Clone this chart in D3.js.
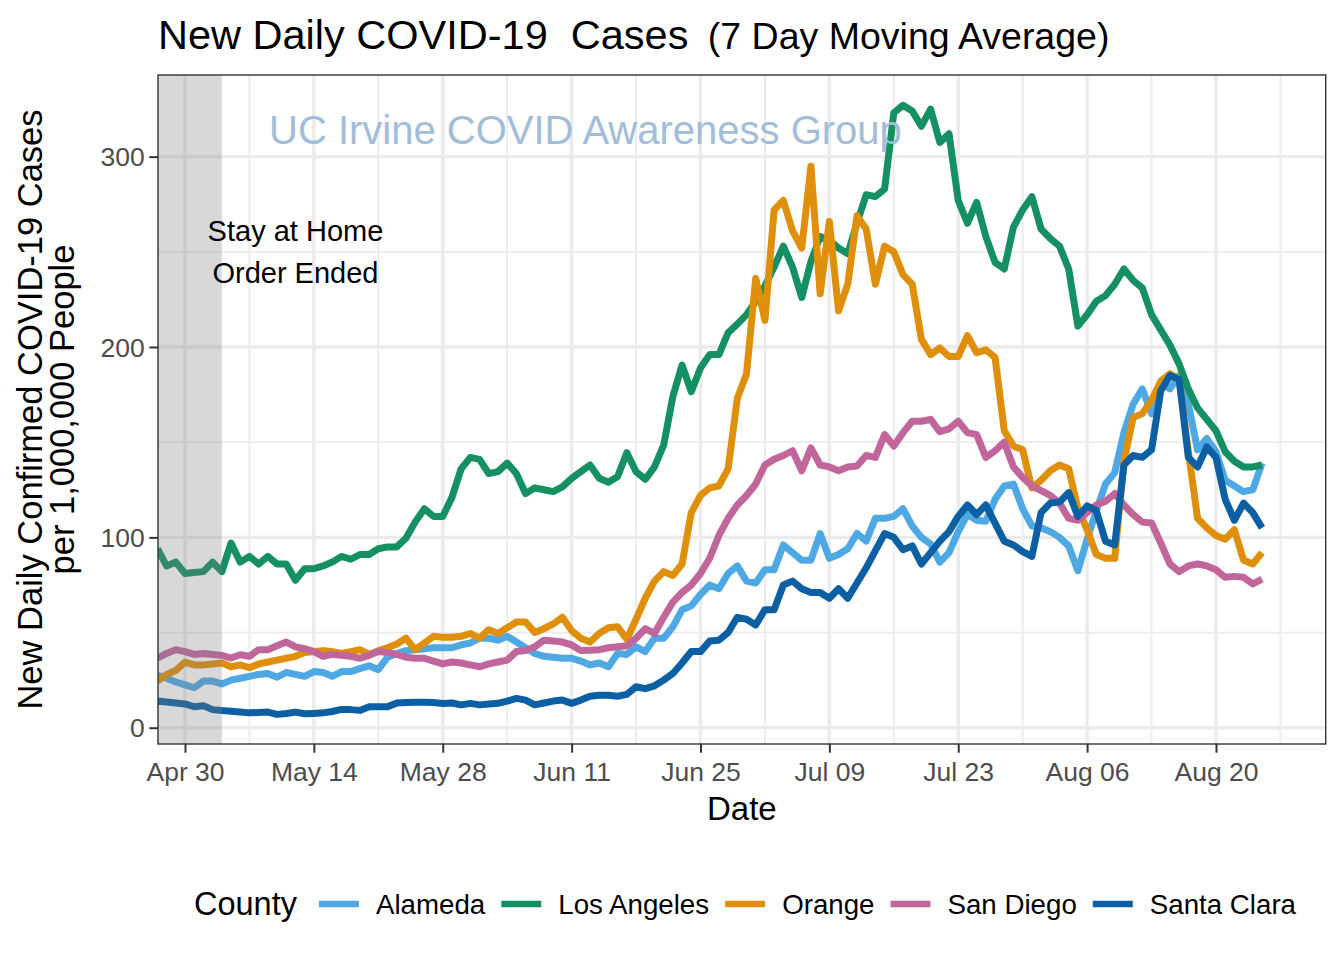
<!DOCTYPE html>
<html><head><meta charset="utf-8">
<script src="https://cdn.jsdelivr.net/npm/d3@7"></script>
<style>
html,body{margin:0;padding:0;background:#fff;}
svg text{font-family:"Liberation Sans", Arial, Helvetica, sans-serif;}
</style></head>
<body><svg id="chart" width="1344" height="960"></svg>
<script>
// ---------------- data ----------------
const startDate = "2020-04-27";
const counties = ["Alameda", "Los Angeles", "Orange", "San Diego", "Santa Clara"];
const countyColors = ["#4ea8e4", "#149063", "#e08f0b", "#c0669b", "#0c5fa3"];

const alameda = [27.5,26,24,22.5,21,24.5,24.5,23,25,26,
27,28,28.5,26.5,29,28,27,29.5,29,27,
29.5,29.5,31,32.5,30.5,37,39,40.5,41,41.5,
42,42,42,43.5,44.5,47,47,46,48,45,
42,39,37.5,37,36.5,36.5,35,33,34,32,
39,38.5,42.5,40,47,47,53,62,64,70,
75,73,81,85,77,76,83,83,96,92,
88,88,102,89,91,94,102,98,110,110,
111,115,106,100,96.5,87,92,103,112,109,
108.5,120,127,128,115,106,105,103,100,95.5,
82.5,99,114,128,134,155,170,178,165,181,
178,185,170,146,152,145,130,127,124,125,
139];

const losAngeles = [94,85,87,81,81.5,82,87,82,97,87,
90,86,90,86,86,77.5,83.5,83.5,85,87,
90,88.5,91,91,94,95,95,99.5,108,115,
111,111,121,136,142,141,133.5,134.5,139,133.5,
123,126,125,124,126.5,131,134.5,138,131,129,
132,144.5,134.5,130.5,137,148.5,174,190.5,176.5,189,
196,196,207.5,212,217,224,232,242,253,242,
226,245,258,256,252,249,265,280,279,283,
323,327,324,316,325,307.5,312,277,265,276,
258,244.5,241,263,272,279,262,257,253,241,
211,217,224,227,233,241,235,231,217,209,
201,191,178,168,162,156,145,140,137,137,
138];

const orange = [24.5,28,30,34.5,33,33,33.5,34,32,33,
31.5,33.5,34.5,35.5,36.5,37.5,39.5,40,40.5,40,
39,40,41,38.5,40.5,42,44,47,41,44.5,
48,47.5,47.5,48,49.5,47,51.5,49.5,52.5,55.5,
55.5,50,52,54.5,58,51,47,45,49.5,52.5,
53,46.5,57,68,77,82,80,86,113,122,
126,127,136,173,186,236,214,272,277,261,
252,295,228,266,219,233,269,262,233,253,
250,238,233,204,196,199.5,195,195,206,197,
198.5,194.5,156,148,146,126,130,135,138,136,
115,104,91,89,89,140,163,165,172,182,
186,183,145,110,105,101,99,104,88,86,
92];

const sanDiego = [36.5,39,41,40,38.5,39,38.5,38,36.6,38.3,
37.5,41,41,43,45,42.5,41.5,40,37.5,38.5,
38,37.5,36.5,38,40,39.5,38.5,37,36.5,36.5,
35,33.5,34.5,34,33,32,33.5,34.5,35.5,40,
40.5,42.5,46,45.5,45,43.5,40.5,40.7,41,42,
42.5,43,47,52,49.5,58,66,71,75,81,
89,101,110,117,122,128,138,141,143,145.5,
135,147,138,137,135,137,137.5,143,142,154,
148,155,161,161,162,155.5,157,161,155,154,
142,145.5,150,137,131.5,127,124.5,122,118,110,
109,113,117,119,123,117,112,108,107.5,97,
86,82,85,86,85,83,79,79.5,79,75.5,
78];

const santaClara = [14,13.5,13,12.5,11,11.5,9.5,9,8.7,8.3,
7.8,8,8.2,7,7.5,8.2,7.3,7.5,7.8,8.5,
9.6,9.5,9.1,11,11,11,13,13.2,13.4,13.4,
13.2,12.7,13,12,12.8,12,12.5,12.8,14,15.4,
14.5,12,13,14,14.5,12.8,14.5,16.5,17,17,
16.5,17.5,21.5,20.5,22,25,28.5,34,40,40,
45.5,46,50,58,57,54,62,62,75,77,
73,71,71,68,73,68,76,84,93,102,
100,93.5,95.5,86,92,98,103,111,117,112,
117,107.5,98,96,92.5,90,113,118,118.5,123.5,
111,116.5,114,98,96,138,143,142,146,177,
185,183,142,137,147.5,142,120,109,118,113,
105];

const seriesValues = [alameda, losAngeles, orange, sanDiego, santaClara];

const xTickDates = ["2020-04-30","2020-05-14","2020-05-28","2020-06-11","2020-06-25","2020-07-09","2020-07-23","2020-08-06","2020-08-20"];
const xTickLabels = ["Apr 30","May 14","May 28","Jun 11","Jun 25","Jul 09","Jul 23","Aug 06","Aug 20"];
const xMinorDates = ["2020-05-07","2020-05-21","2020-06-04","2020-06-18","2020-07-02","2020-07-16","2020-07-30","2020-08-13","2020-08-27"];
const yTicks = [0, 100, 200, 300];
const yMinorTicks = [50, 150, 250];
const stayHomeEnd = "2020-05-04";
const stayHomeLabel = ["Stay at Home", "Order Ended"];
const stayHomeLabelPos = {date: "2020-05-12", value: 250};
const watermark = "UC Irvine COVID Awareness Group";
const watermarkPos = {date: "2020-06-12T12:00:00Z", value: 314};

// ---------------- layout ----------------
const W = 1344, H = 960;
const panel = {left: 158, right: 1325.7, top: 75, bottom: 744};
const parse = d3.utcParse("%Y-%m-%d");
const start = parse(startDate);
const DAY = 864e5;
const dates = alameda.map((_, i) => d3.utcDay.offset(start, i));

const x = d3.scaleUtc()
  .domain([new Date(start.getTime() + 0.067 * DAY), new Date(start.getTime() + 126.92 * DAY)])
  .range([panel.left, panel.right]);
const y = d3.scaleLinear().domain([-8.56, 342.9]).range([panel.bottom, panel.top]);

const svg = d3.select("#chart");
svg.append("rect").attr("width", W).attr("height", H).attr("fill", "#fff");

const defs = svg.append("defs");
defs.append("clipPath").attr("id", "clip").append("rect")
  .attr("x", panel.left).attr("y", panel.top)
  .attr("width", panel.right - panel.left).attr("height", panel.bottom - panel.top);

const gridColor = "#ebebeb";
const grid = svg.append("g");
grid.selectAll(".ym").data(yMinorTicks).join("line")
  .attr("x1", panel.left).attr("x2", panel.right)
  .attr("y1", d => y(d)).attr("y2", d => y(d))
  .attr("stroke", gridColor).attr("stroke-width", 1.8);
grid.selectAll(".xm").data(xMinorDates.map(parse).filter(d => x(d) > panel.left && x(d) < panel.right)).join("line")
  .attr("class", "xm")
  .attr("x1", d => x(d)).attr("x2", d => x(d))
  .attr("y1", panel.top).attr("y2", panel.bottom)
  .attr("stroke", gridColor).attr("stroke-width", 1.8);
grid.selectAll(".yM").data(yTicks).join("line")
  .attr("class", "yM")
  .attr("x1", panel.left).attr("x2", panel.right)
  .attr("y1", d => y(d)).attr("y2", d => y(d))
  .attr("stroke", gridColor).attr("stroke-width", 3.4);
grid.selectAll(".xM").data(xTickDates.map(parse)).join("line")
  .attr("class", "xM")
  .attr("x1", d => x(d)).attr("x2", d => x(d))
  .attr("y1", panel.top).attr("y2", panel.bottom)
  .attr("stroke", gridColor).attr("stroke-width", 3.4);

// lines
const lineGen = d3.line().x((d, i) => x(dates[i])).y(d => y(d));
const linesG = svg.append("g").attr("clip-path", "url(#clip)");
seriesValues.forEach((vals, k) => {
  linesG.append("path").datum(vals)
    .attr("d", lineGen)
    .attr("fill", "none")
    .attr("stroke", countyColors[k])
    .attr("stroke-width", 7)
    .attr("stroke-linejoin", "round")
    .attr("stroke-linecap", "butt");
});

// stay at home shading
svg.append("rect")
  .attr("x", panel.left).attr("y", panel.top)
  .attr("width", x(parse(stayHomeEnd)) - panel.left)
  .attr("height", panel.bottom - panel.top)
  .attr("fill", "#7f7f7f").attr("fill-opacity", 0.3);

// annotations
const ann = svg.append("text")
  .attr("x", x(parse(stayHomeLabelPos.date)))
  .attr("y", y(stayHomeLabelPos.value))
  .attr("text-anchor", "middle")
  .attr("font-size", 29).attr("fill", "#000");
stayHomeLabel.forEach((t, i) => {
  ann.append("tspan").attr("x", x(parse(stayHomeLabelPos.date)))
    .attr("dy", i === 0 ? -11 : 42).text(t);
});

svg.append("text")
  .attr("x", x(new Date(watermarkPos.date)))
  .attr("y", y(watermarkPos.value) + 14)
  .attr("text-anchor", "middle")
  .attr("font-size", 40)
  .attr("fill", "#a2bdd9")
  .text(watermark);

// panel border
svg.append("rect")
  .attr("x", panel.left).attr("y", panel.top)
  .attr("width", panel.right - panel.left).attr("height", panel.bottom - panel.top)
  .attr("fill", "none").attr("stroke", "#333333").attr("stroke-width", 1.4);

// y axis
const yAxis = d3.axisLeft(y).tickValues(yTicks).tickSize(8.7).tickPadding(4.5);
const yg = svg.append("g").attr("transform", `translate(${panel.left},0)`).call(yAxis);
yg.select(".domain").remove();
yg.selectAll(".tick line").attr("stroke", "#333333").attr("stroke-width", 2);
yg.selectAll(".tick text").attr("font-size", 26.5).attr("fill", "#4d4d4d")
  .attr("font-family", "Liberation Sans, Arial, sans-serif").attr("dy", "0.35em");

// x axis
const xAxis = d3.axisBottom(x).tickValues(xTickDates.map(parse))
  .tickFormat((d, i) => xTickLabels[i]).tickSize(8.7).tickPadding(8);
const xg = svg.append("g").attr("transform", `translate(0,${panel.bottom})`).call(xAxis);
xg.select(".domain").remove();
xg.selectAll(".tick line").attr("stroke", "#333333").attr("stroke-width", 2);
xg.selectAll(".tick text").attr("font-size", 26.5).attr("fill", "#4d4d4d")
  .attr("font-family", "Liberation Sans, Arial, sans-serif")
  .attr("dy", null).attr("y", 37);

// axis titles
svg.append("text")
  .attr("x", (panel.left + panel.right) / 2).attr("y", 820)
  .attr("text-anchor", "middle").attr("font-size", 33).attr("fill", "#000")
  .text("Date");
const yTitleLines = ["New Daily Confirmed COVID-19 Cases", "per 1,000,000 People"];
yTitleLines.forEach((t, i) => {
  svg.append("text")
    .attr("transform", `translate(${42 + i * 32},${(panel.top + panel.bottom) / 2}) rotate(-90)`)
    .attr("text-anchor", "middle").attr("font-size", 34.5).attr("fill", "#000")
    .text(t);
});

// title
const title = svg.append("text").attr("x", 158).attr("y", 49).attr("fill", "#000")
  .style("white-space", "pre");
title.append("tspan").attr("font-size", 41.5).text("New Daily COVID-19  Cases");
title.append("tspan").attr("font-size", 37.5).attr("dx", 9).text(" (7 Day Moving Average)");

// legend
const legend = svg.append("g");
const lgTitle = legend.append("text").attr("x", 0).attr("y", 11).attr("font-size", 32.5)
  .attr("fill", "#000").text("County");
let cx = lgTitle.node().getComputedTextLength() + 22;
counties.forEach((c, k) => {
  legend.append("line").attr("x1", cx).attr("x2", cx + 40).attr("y1", 0).attr("y2", 0)
    .attr("stroke", countyColors[k]).attr("stroke-width", 6.6);
  const t = legend.append("text").attr("x", cx + 57).attr("y", 9.8).attr("font-size", 27.7)
    .attr("fill", "#000").text(c);
  cx = cx + 57 + t.node().getComputedTextLength() + 16;
});
const totalW = cx - 16;
legend.attr("transform", `translate(${745 - totalW / 2},904)`);
</script>
</body></html>
